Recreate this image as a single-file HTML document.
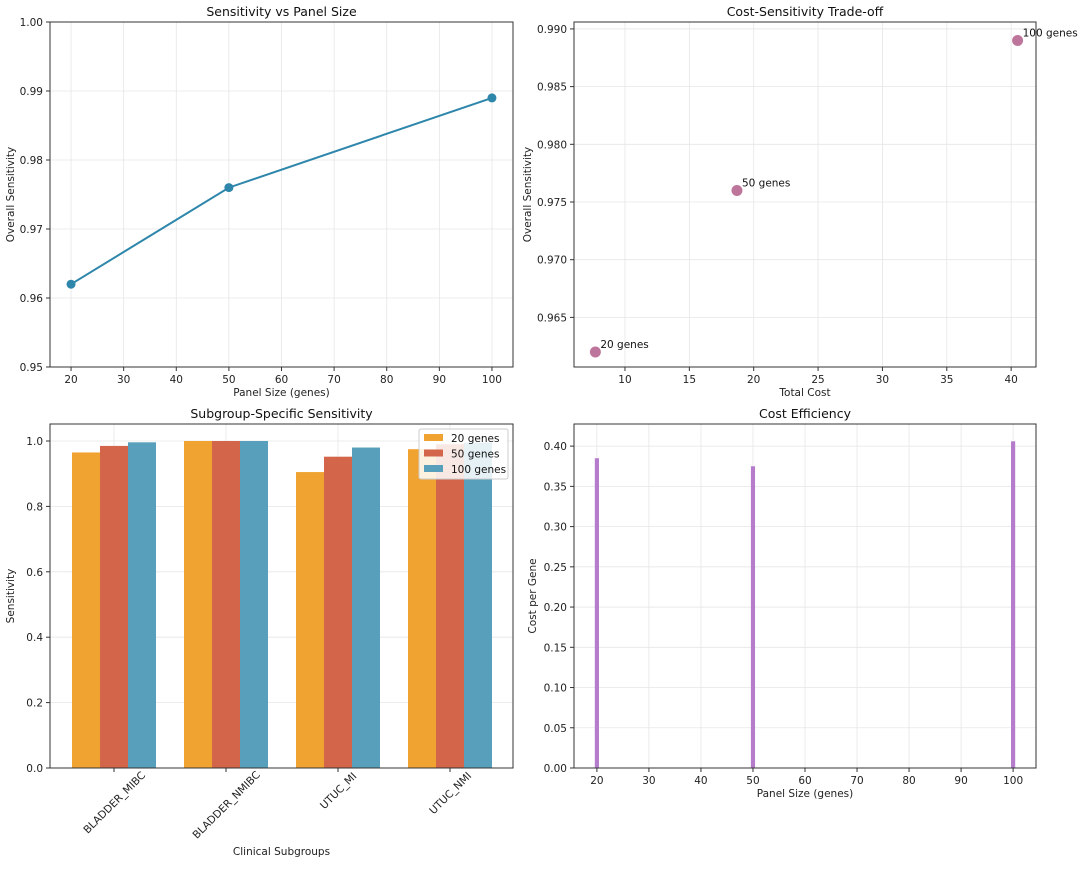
<!DOCTYPE html>
<html><head><meta charset="utf-8"><style>
body{margin:0;background:#fff;font-family:"Liberation Sans","DejaVu Sans",sans-serif}
svg text{font-family:"DejaVu Sans","Liberation Sans",sans-serif}
</style></head><body>
<svg id="fig" width="1080" height="865" viewBox="0 0 1080 865" xmlns="http://www.w3.org/2000/svg"></svg>
<script>
// Panel 1 data
const panelSizes=[20,50,100];
const sensitivity=[0.962,0.976,0.989];
// Panel 2 data
const totalCost=[7.7,18.7,40.5];
const costLabels=["20 genes","50 genes","100 genes"];
// Panel 3 data
const subgroups=["BLADDER_MIBC","BLADDER_NMIBC","UTUC_MI","UTUC_NMI"];
const sens20=[0.965,1.0,0.905,0.975];
const sens50=[0.985,1.0,0.952,0.99];
const sens100=[0.996,1.0,0.98,0.995];
const seriesNames=["20 genes","50 genes","100 genes"];
// Panel 4 data
const costPerGene=[0.385,0.375,0.406];
// Ticks
const p1yTicks=[0.95,0.96,0.97,0.98,0.99,1.00];
const p1xTicks=[20,30,40,50,60,70,80,90,100];
const p2xTicks=[10,15,20,25,30,35,40];
const p2yTicks=[0.965,0.970,0.975,0.980,0.985,0.990];
const p3yTicks=[0,0.2,0.4,0.6,0.8,1.0];
const p4yTicks=[0,0.05,0.10,0.15,0.20,0.25,0.30,0.35,0.40];
const p4xTicks=[20,30,40,50,60,70,80,90,100];

const svg=document.getElementById('fig');
const NS='http://www.w3.org/2000/svg';
function el(tag,attrs,parent){const e=document.createElementNS(NS,tag);for(const k in attrs)e.setAttribute(k,attrs[k]);(parent||svg).appendChild(e);return e;}
function txt(s,attrs,parent){const e=el('text',attrs,parent);e.textContent=s;return e;}
function lin(d0,d1,r0,r1){return v=>r0+(v-d0)/(d1-d0)*(r1-r0);}

function axes(name,L,T,R,B,title,xl,yl,xt,yt,sx,sy,xfmt,yfmt,rot){
  const g=el('g',{});
  
  
  el('rect',{x:L,y:T,width:R-L,height:B-T,fill:'#fff'},g);
  const grid=el('g',{},g);
  
  
  if(xt)xt.forEach(v=>{const x=sx(v);el('line',{x1:x,x2:x,y1:T,y2:B,stroke:'#e6e6e6','stroke-width':0.8},grid);});
  yt.forEach(v=>{const y=sy(v);el('line',{x1:L,x2:R,y1:y,y2:y,stroke:'#e6e6e6','stroke-width':0.8},grid);});
  const tk=el('g',{},g);
  
  
  yt.forEach(v=>{const y=sy(v);el('line',{x1:L-4,x2:L,y1:y,y2:y,stroke:'#333'},tk);
    txt(yfmt(v),{x:L-7,y:y+4,'text-anchor':'end','font-size':10.5,fill:'#222'},tk);});
  if(xt)xt.forEach(v=>{const x=sx(v);el('line',{x1:x,x2:x,y1:B,y2:B+4,stroke:'#333'},tk);
    txt(xfmt(v),{x:x,y:B+16,'text-anchor':'middle','font-size':10.5,fill:'#222'},tk);});
  const t=txt(title,{x:(L+R)/2,y:T-6,'text-anchor':'middle','font-size':12.5,fill:'#111'},g);
  
  
  const xla=txt(xl,{x:(L+R)/2,y:B+(rot?87:29),'text-anchor':'middle','font-size':10.5,fill:'#222'},g);
  
  
  const yx=L-(name==='panel-cost-sensitivity'?43:(name==='panel-cost-efficiency'?38:36));
  const yla=txt(yl,{x:yx,y:(T+B)/2,'text-anchor':'middle','font-size':10.5,fill:'#222',transform:`rotate(-90 ${yx} ${(T+B)/2})`},g);
  
  
  return g;
}
function frame(g,L,T,R,B){el('rect',{x:L,y:T,width:R-L,height:B-T,fill:'none',stroke:'#333','stroke-width':1},g);}

// Panel 1
{const L=50,T=22,R=513,B=367;
const sx=lin(16,104,L,R),sy=lin(0.95,1.0,B,T);
const g=axes('panel-sensitivity-vs-size',L,T,R,B,'Sensitivity vs Panel Size','Panel Size (genes)','Overall Sensitivity',p1xTicks,p1yTicks,sx,sy,v=>v,v=>v.toFixed(2));
const pts=panelSizes.map((p,i)=>sx(p)+','+sy(sensitivity[i])).join(' ');
const pl=el('polyline',{points:pts,fill:'none',stroke:'#2e86ab','stroke-width':2},g);


panelSizes.forEach((p,i)=>{const c=el('circle',{cx:sx(p),cy:sy(sensitivity[i]),r:4.5,fill:'#2e86ab'},g);

});
frame(g,L,T,R,B);}

// Panel 2
{const L=574,T=22,R=1036,B=367;
const sx=lin(6.04,41.93,L,R),sy=lin(0.9607,0.9906,B,T);
const g=axes('panel-cost-sensitivity',L,T,R,B,'Cost-Sensitivity Trade-off','Total Cost','Overall Sensitivity',p2xTicks,p2yTicks,sx,sy,v=>v,v=>v.toFixed(3));
totalCost.forEach((c,i)=>{const x=sx(c),y=sy(sensitivity[i]);
const p=el('circle',{cx:x,cy:y,r:5.5,fill:'#a23b72','fill-opacity':0.7},g);


const t=txt(costLabels[i],{x:x+5,y:y-4,'font-size':10.5,fill:'#111'},g);

});
frame(g,L,T,R,B);}

// Panel 3
{const L=50,T=424,R=513,B=768;
const sx=lin(-0.5714,3.5625,L,R),sy=lin(0,1.052,B,T);
const g=axes('panel-subgroup-sensitivity',L,T,R,B,'Subgroup-Specific Sensitivity','Clinical Subgroups','Sensitivity',null,p3yTicks,sx,sy,v=>v,v=>v.toFixed(1),true);
subgroups.forEach((s,i)=>{const x=sx(i);
el('line',{x1:x,x2:x,y1:T,y2:B,stroke:'#e6e6e6','stroke-width':0.8},g);});
const series=[sens20,sens50,sens100],cols=['#f0a330','#d2654a','#589fbc'],w=0.25;
series.forEach((arr,k)=>arr.forEach((v,i)=>{const x0=sx(i+(k-1)*w-w/2),x1=sx(i+(k-1)*w+w/2);
const r=el('rect',{x:x0,y:sy(v),width:x1-x0,height:sy(0)-sy(v),fill:cols[k]},g);

}));
subgroups.forEach((s,i)=>{const x=sx(i);
el('line',{x1:x,x2:x,y1:B,y2:B+4,stroke:'#333'},g);
const cy=B+6+s.length*2.35;
const t=txt(s,{x:x,y:cy+4,'text-anchor':'middle','font-size':10.5,fill:'#222',transform:`rotate(-45 ${x} ${cy})`},g);

});
const lg=el('g',{},g);


el('rect',{x:419,y:429,width:89,height:50,rx:2,fill:'#fff','fill-opacity':0.85,stroke:'#ccc'},lg);
seriesNames.forEach((n,k)=>{const y=434+k*15.5;
el('rect',{x:424,y:y,width:19,height:7,fill:cols[k]},lg);
const t=txt(n,{x:451,y:y+8,'font-size':10.5,fill:'#111'},lg);

});
frame(g,L,T,R,B);}

// Panel 4
{const L=574,T=424,R=1036,B=768;
const sx=lin(15.6,104.4,L,R),sy=lin(0,0.4275,B,T);
const g=axes('panel-cost-efficiency',L,T,R,B,'Cost Efficiency','Panel Size (genes)','Cost per Gene',p4xTicks,p4yTicks,sx,sy,v=>v,v=>v.toFixed(2));
panelSizes.forEach((p,i)=>{const x0=sx(p-0.4),x1=sx(p+0.4);
const r=el('rect',{x:x0,y:sy(costPerGene[i]),width:x1-x0,height:sy(0)-sy(costPerGene[i]),fill:'#b57ccc'},g);

});
frame(g,L,T,R,B);}
</script>
</body></html>
